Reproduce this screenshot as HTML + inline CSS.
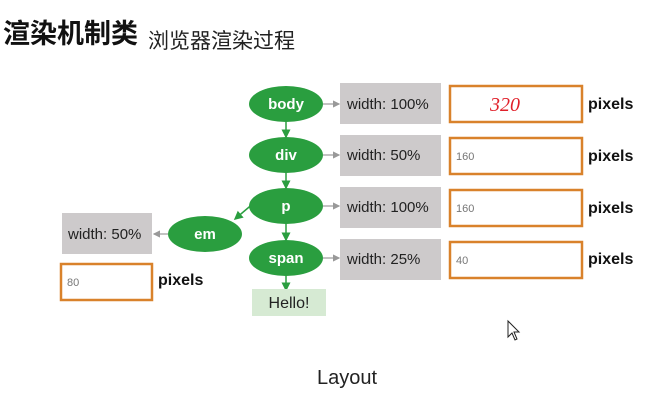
<!DOCTYPE html>
<html><head><meta charset="utf-8"><style>
body{margin:0;width:664px;height:400px;background:#fff;overflow:hidden;position:relative;font-family:"Liberation Sans",Arial,sans-serif}
.t{position:absolute;white-space:nowrap}
</style></head><body>
<div class="t" style="left:3px;top:12px;font-size:27px;font-weight:bold;font-family:'Liberation Sans','Noto Sans CJK SC',sans-serif;color:#111">渲染机制类</div>
<div class="t" style="left:148px;top:25px;font-size:21px;font-family:'Liberation Sans','Noto Sans CJK SC',sans-serif;color:#222">浏览器渲染过程</div>
<svg width="664" height="400" style="position:absolute;left:0;top:0">
<defs>
<marker id="g" markerWidth="6" markerHeight="6" refX="5" refY="3" orient="auto"><path d="M0,0 L6,3 L0,6z" fill="#2a9e3f"/></marker>
<marker id="y" markerWidth="6" markerHeight="6" refX="5" refY="3" orient="auto"><path d="M0,0 L6,3 L0,6z" fill="#999"/></marker>
</defs>
<g stroke="#2a9e3f" stroke-width="1.5" marker-end="url(#g)">
<line x1="286" y1="121" x2="286" y2="137"/>
<line x1="286" y1="172" x2="286" y2="188"/>
<line x1="286" y1="223" x2="286" y2="240"/>
<line x1="262" y1="196" x2="235" y2="219"/>
<line x1="286" y1="275" x2="286" y2="290"/>
</g>
<g stroke="#999" stroke-width="1.2" marker-end="url(#y)">
<line x1="323" y1="104" x2="339" y2="104"/>
<line x1="323" y1="155" x2="339" y2="155"/>
<line x1="323" y1="206" x2="339" y2="206"/>
<line x1="323" y1="258" x2="339" y2="258"/>
<line x1="168" y1="234" x2="154" y2="234"/>
</g>
<g fill="#2a9e3f">
<ellipse cx="286" cy="104" rx="37" ry="18"/>
<ellipse cx="286" cy="155" rx="37" ry="18"/>
<ellipse cx="286" cy="206" rx="37" ry="18"/>
<ellipse cx="286" cy="258" rx="37" ry="18"/>
<ellipse cx="205" cy="234" rx="37" ry="18"/>
</g>
<g fill="#fff" font-size="15" font-weight="bold" text-anchor="middle" font-family="Liberation Sans,sans-serif">
<text x="286" y="109">body</text><text x="286" y="160">div</text><text x="286" y="211">p</text><text x="286" y="263">span</text><text x="205" y="239">em</text>
</g>
<g fill="#cdcacb">
<rect x="340" y="83" width="101" height="41"/><rect x="340" y="135" width="101" height="41"/>
<rect x="340" y="187" width="101" height="41"/><rect x="340" y="239" width="101" height="41"/>
<rect x="62" y="213" width="90" height="41"/>
</g>
<g font-size="15" fill="#222" font-family="Liberation Sans,sans-serif">
<text x="347" y="109">width: 100%</text><text x="347" y="160">width: 50%</text>
<text x="347" y="212">width: 100%</text><text x="347" y="264">width: 25%</text>
<text x="68" y="239">width: 50%</text>
</g>
<g fill="#fff" stroke="#d9822b" stroke-width="2.5">
<rect x="450" y="86" width="132" height="36"/><rect x="450" y="138" width="132" height="36"/>
<rect x="450" y="190" width="132" height="36"/><rect x="450" y="242" width="132" height="36"/>
<rect x="61" y="264" width="91" height="36"/>
</g>
<g font-size="11" fill="#777" font-family="Liberation Sans,sans-serif">
<text x="456" y="160">160</text><text x="456" y="212">160</text><text x="456" y="264">40</text><text x="67" y="286">80</text>
</g>
<text x="490" y="111" font-size="20" fill="#e0202a" font-style="italic" font-family="Liberation Serif,serif">320</text>
<g font-size="16" font-weight="bold" fill="#111" font-family="Liberation Sans,sans-serif">
<text x="588" y="109">pixels</text><text x="588" y="161">pixels</text><text x="588" y="213">pixels</text><text x="588" y="264">pixels</text><text x="158" y="285">pixels</text>
</g>
<rect x="252" y="289" width="74" height="27" fill="#d6ead3"/>
<text x="289" y="308" font-size="16" fill="#222" text-anchor="middle" font-family="Liberation Sans,sans-serif">Hello!</text>
<text x="347" y="384" font-size="20" fill="#222" text-anchor="middle" font-family="Liberation Sans,sans-serif">Layout</text>
<path d="M508,321 L508,337 L512,333 L515,340 L517,339 L514,332 L519,332z" fill="#fff" stroke="#222" stroke-width="1"/>
</svg>
</body></html>
